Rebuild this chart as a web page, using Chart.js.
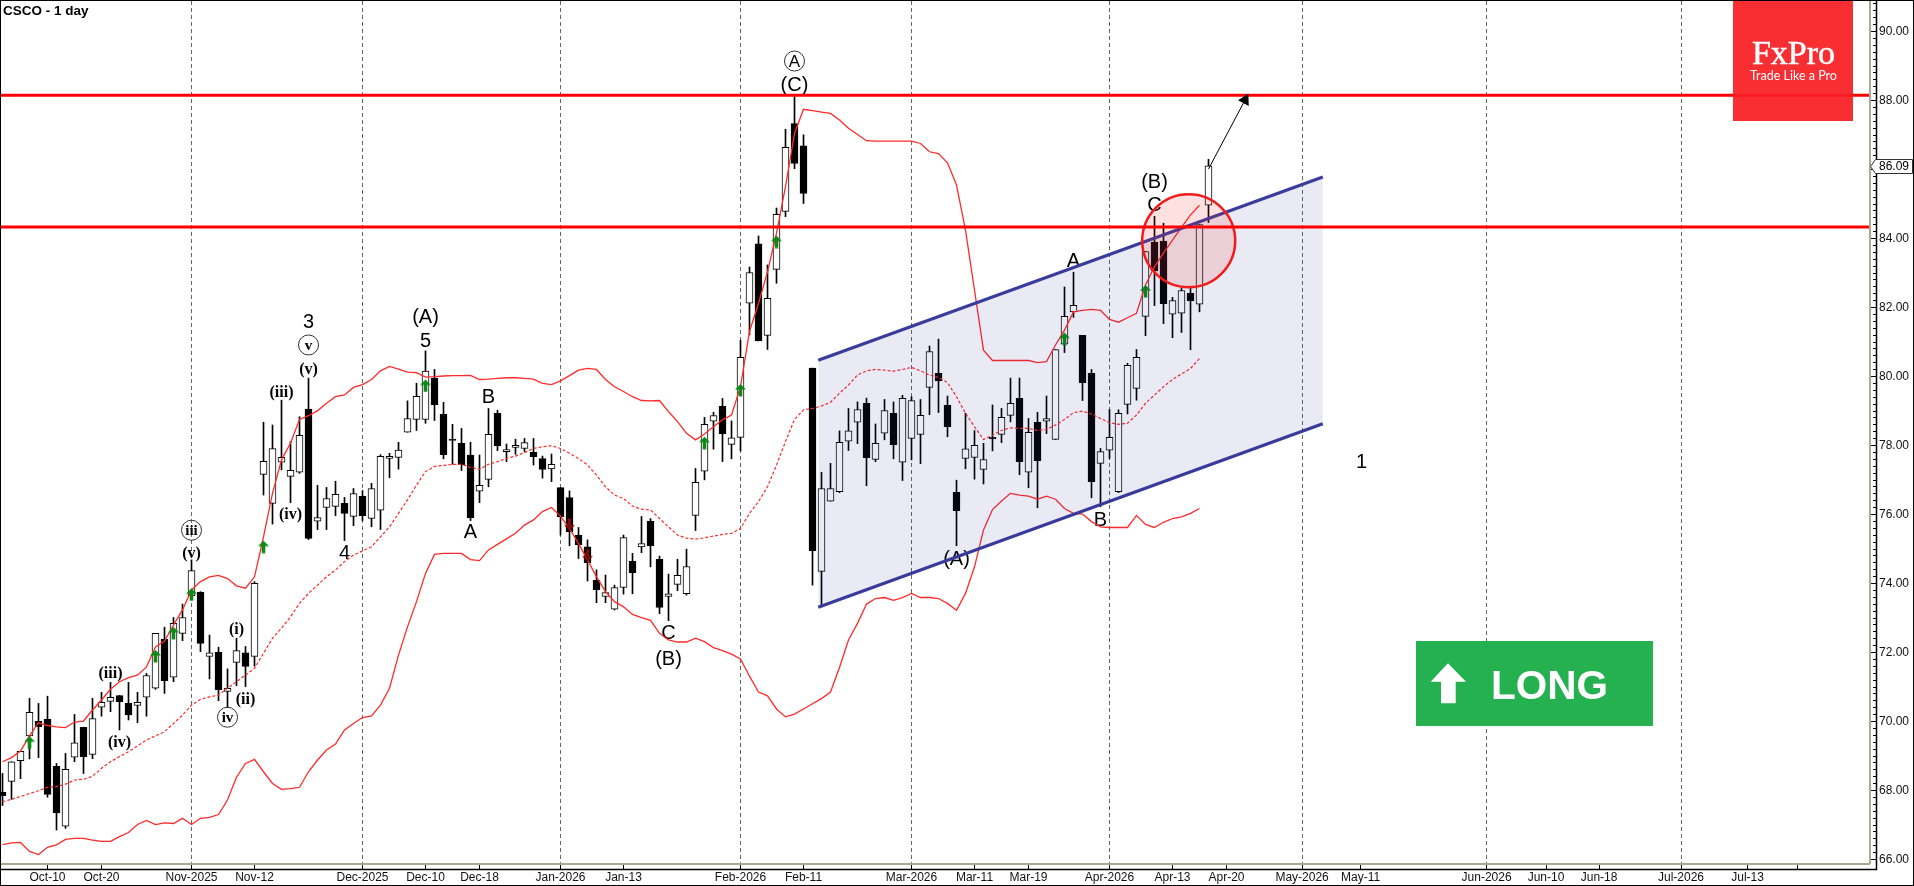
<!DOCTYPE html>
<html>
<head>
<meta charset="utf-8">
<title>CSCO - 1 day</title>
<script src="https://cdn.jsdelivr.net/npm/chart.js@4/dist/chart.umd.js"></script>
<style>
  html, body { margin: 0; padding: 0; background: #fff; }
  canvas { display: block; }
</style>
</head>
<body>
<canvas id="chart" width="1914" height="886"></canvas>
<script>
const opens = [67.93,68.25,68.85,69.57,69.99,70.05,68.69,66.95,68.95,69.82,69.03,70.40,70.57,70.74,70.51,70.45,70.69,70.95,72.37,71.27,72.54,73.63,73.73,71.87,71.99,70.86,71.70,71.98,71.87,77.15,76.31,77.50,77.09,77.21,79.04,75.79,76.19,76.22,76.31,75.93,76.51,75.87,76.11,77.61,77.64,78.37,78.74,78.74,79.94,78.89,78.17,78.05,77.71,76.66,77.00,78.92,77.81,77.93,77.90,77.79,77.61,77.31,76.77,76.48,75.38,75.05,74.08,73.61,73.24,73.87,74.63,75.05,75.79,74.69,73.61,73.96,73.69,75.96,77.24,78.69,79.12,78.02,78.22,82.11,83.83,81.18,83.09,84.77,87.32,86.67,80.23,74.34,76.37,76.65,78.11,78.66,79.21,77.58,78.34,78.92,77.50,78.19,78.31,79.67,80.08,79.15,76.63,77.61,77.64,77.29,78.22,78.31,78.86,79.35,77.21,78.66,78.69,78.16,80.92,81.86,81.18,80.08,77.47,77.85,76.65,79.18,79.64,81.73,83.88,83.91,81.79,81.82,82.40,82.08,84.95];
const closes = [67.84,68.82,69.12,70.25,69.84,67.87,67.34,68.60,69.37,68.97,70.07,70.54,70.69,70.56,70.18,70.54,71.32,72.54,71.17,72.83,73.00,74.36,72.25,71.98,70.91,70.95,72.04,71.58,73.99,77.53,77.90,77.64,77.27,78.28,75.29,75.90,76.45,76.57,76.02,76.59,75.95,76.74,77.67,77.67,77.85,78.77,79.41,80.14,79.17,77.72,78.13,77.43,75.89,76.83,78.31,77.98,77.87,77.99,78.07,77.66,77.29,77.44,75.92,75.49,75.11,74.59,73.81,73.72,73.87,75.32,74.30,75.14,75.08,73.29,73.69,74.22,74.48,76.92,78.60,78.85,78.33,78.21,80.54,83.00,81.02,82.25,84.69,86.63,86.16,85.29,74.94,76.74,76.74,78.08,78.41,79.03,77.63,78.05,79.00,78.01,79.35,79.29,78.86,80.71,79.86,78.53,76.10,77.89,77.99,77.58,78.18,78.80,79.21,77.52,78.37,77.55,78.77,80.77,81.73,82.05,79.81,76.94,77.81,78.22,78.92,80.31,80.54,83.61,83.05,82.10,82.19,82.48,82.18,84.39,86.09];
const highs = [68.48,68.82,69.12,70.66,70.51,70.72,68.77,69.06,70.19,69.82,70.66,70.83,71.12,70.74,71.12,70.83,71.38,72.54,72.72,73.00,73.39,74.67,73.75,72.49,72.14,71.51,72.40,72.16,74.04,78.66,78.58,79.30,78.10,78.82,79.94,76.83,76.77,76.95,76.48,76.74,76.68,76.89,77.72,77.76,78.08,79.28,79.79,80.73,80.19,79.24,78.60,78.48,78.08,77.71,79.06,79.01,78.03,78.17,78.19,78.19,77.68,77.74,76.77,76.67,75.61,75.25,74.38,74.23,73.94,75.39,74.86,75.93,75.87,74.78,74.26,74.69,74.98,77.32,78.80,78.95,79.35,78.70,81.04,83.16,84.06,83.22,84.87,87.15,88.12,86.99,80.23,77.21,77.47,78.41,79.06,79.25,79.36,78.61,79.32,79.25,79.44,79.40,79.32,80.87,81.07,79.42,76.98,78.92,78.42,78.05,79.16,79.06,79.94,79.94,78.77,78.95,79.42,80.77,82.58,83.01,81.18,80.19,77.90,79.03,79.02,80.37,80.77,83.61,84.63,84.43,82.28,82.54,82.54,84.39,86.28];
const lows = [67.55,67.73,68.33,68.90,68.94,67.79,66.84,66.89,68.82,68.48,68.91,70.14,70.27,69.74,70.03,69.95,70.14,70.92,70.80,71.14,72.33,73.51,72.01,71.22,70.59,70.40,71.02,71.00,71.59,76.55,75.71,77.28,76.33,77.18,75.26,75.55,75.55,75.95,75.23,75.66,75.81,75.63,75.55,77.05,77.30,78.37,78.42,78.63,78.71,77.60,77.44,77.26,75.81,76.33,76.79,77.84,77.52,77.73,77.81,77.42,77.04,76.94,75.39,75.08,74.71,74.06,73.43,73.43,73.22,73.68,73.69,74.88,74.47,73.11,72.91,73.78,73.65,75.52,76.99,77.88,77.52,77.60,77.83,81.19,81.02,80.77,82.69,84.62,86.01,85.00,73.94,73.31,76.37,76.62,77.84,78.04,76.82,77.52,78.15,77.60,76.97,77.57,77.46,78.88,78.94,78.24,75.08,77.31,77.01,76.87,77.83,78.07,78.67,77.14,76.76,76.18,78.33,78.16,80.68,81.70,79.29,76.47,76.21,77.61,76.62,78.90,79.30,81.17,82.04,81.52,81.11,81.26,80.76,81.86,84.45];

const upperBand = [68.82,68.94,69.13,69.57,69.95,69.87,69.83,69.81,69.97,70.00,70.32,70.61,70.92,71.14,71.26,71.33,71.57,72.15,72.32,72.78,73.22,73.80,74.04,74.18,74.22,74.13,73.92,73.85,74.18,75.34,76.60,77.57,78.05,78.74,78.85,78.99,79.21,79.40,79.45,79.67,79.75,79.90,80.15,80.28,80.20,80.11,80.10,79.97,79.98,80.00,80.01,80.01,80.02,79.90,79.91,79.93,79.95,79.95,79.93,79.91,79.79,79.75,79.86,80.01,80.17,80.22,80.19,79.90,79.69,79.55,79.40,79.29,79.28,79.29,78.97,78.68,78.34,78.15,78.32,78.53,78.73,78.87,79.69,81.29,82.11,83.02,84.14,85.49,87.03,87.73,87.69,87.65,87.61,87.42,87.18,87.00,86.82,86.81,86.81,86.81,86.81,86.81,86.74,86.50,86.45,86.18,85.54,84.23,82.49,80.75,80.45,80.45,80.45,80.45,80.45,80.39,80.42,80.90,81.33,81.86,81.90,81.93,81.90,81.64,81.56,81.69,81.82,82.64,83.17,83.56,83.94,84.31,84.67,84.95];
const middleBand = [67.66,67.73,67.81,67.90,67.98,68.08,68.10,68.17,68.29,68.31,68.40,68.63,68.82,68.97,69.11,69.28,69.45,69.57,69.69,69.93,70.17,70.46,70.63,70.70,70.75,70.95,71.14,71.33,71.53,71.96,72.40,72.69,73.02,73.41,73.70,73.94,74.18,74.38,74.62,74.81,74.93,75.05,75.34,75.63,76.02,76.41,76.84,77.23,77.38,77.41,77.44,77.44,77.35,77.30,77.44,77.52,77.61,77.68,77.78,77.90,77.95,77.98,77.90,77.76,77.61,77.42,77.13,76.79,76.55,76.45,76.23,76.14,76.12,75.87,75.63,75.39,75.30,75.27,75.31,75.36,75.41,75.44,75.58,76.02,76.36,76.79,77.42,78.10,78.74,79.02,79.06,79.13,79.24,79.50,79.74,80.03,80.15,80.19,80.17,80.14,80.19,80.25,80.15,80.03,79.96,79.81,79.40,78.92,78.53,78.16,78.29,78.42,78.50,78.48,78.48,78.42,78.45,78.58,78.74,78.94,78.98,78.90,78.77,78.65,78.60,78.63,78.87,79.21,79.45,79.69,79.90,80.06,80.22,80.51];
const lowerBand = [66.42,66.47,66.48,66.22,66.13,66.34,66.41,66.57,66.60,66.60,66.55,66.51,66.51,66.65,66.77,67.00,67.12,67.00,67.05,67.03,67.18,67.00,67.18,67.21,67.29,67.71,68.37,68.77,68.89,68.53,68.19,68.02,68.04,68.08,68.53,68.87,69.16,69.33,69.74,69.93,70.10,70.15,70.46,70.95,71.91,72.73,73.46,74.28,74.83,74.86,74.86,74.86,74.68,74.65,74.96,75.12,75.28,75.44,75.68,75.83,76.07,76.19,75.94,75.58,75.15,74.67,74.18,73.75,73.46,73.31,73.09,73.00,72.92,72.54,72.35,72.29,72.29,72.40,72.30,72.13,72.04,71.94,71.80,71.30,70.84,70.73,70.35,70.12,70.20,70.35,70.50,70.65,70.84,71.55,72.35,72.83,73.39,73.55,73.58,73.50,73.58,73.70,73.58,73.58,73.55,73.41,73.21,73.70,74.47,75.54,76.13,76.38,76.60,76.55,76.52,76.43,76.52,76.43,76.16,76.02,76.00,75.78,75.63,75.61,75.61,75.61,75.96,75.70,75.61,75.76,75.87,75.92,76.02,76.16];

// x axis, positions are bar numbers, future dates are spaced a bit unevenly
const tickIdx = [5,11,21,28,40,47,53,62,69,82,89,101,108,114,123,130,136,144.4,150.9,164.9,171.5,177.4,186.5,193.9,199.4];
const tickLabels = ['Oct-10','Oct-20','Nov-2025','Nov-12','Dec-2025','Dec-10','Dec-18','Jan-2026','Jan-13','Feb-2026','Feb-11','Mar-2026','Mar-11','Mar-19','Apr-2026','Apr-13','Apr-20','May-2026','May-11','Jun-2026','Jun-10','Jun-18','Jul-2026','Jul-13',''];

const levels = [88.14, 84.32];
const channelIdx = [90.64, 146.7];
const channelUpper = [80.46, 85.77];
const channelLower = [73.30, 78.62];
const targetIdx = [134, 138.06];
const targetPrice = [86.0, 88.0];
const circleIdx = [131.8];
const circlePrice = [83.92];

const upArrowIdx = [3,17,19,21,29,47,78,82,86,118,127];
const upArrowPrice = [69.56,72.06,72.73,73.85,75.23,79.90,78.24,79.77,84.07,81.26,82.64];
const downArrowIdx = [63,65];
const downArrowPrice = [75.52,74.62];

const waveText = ['(iii)','(iv)','iii','(v)','(i)','(ii)','iv','(iii)','(iv)','4','3','v','(v)','(A)','5','B','A','C','(B)','A','(C)','(A)','B','A','(B)','C','1'];
const waveKind = ['r','r','c','r','r','r','c','r','r','s','s','c','r','s','s','s','s','s','s','a','s','s','s','s','s','s','s'];
const waveIdx = [12,13,21,21,26,27,25,31,32,38,34,34,34,47,47,54,52,74,74,88,88,106,122,119,128,128,151];
const wavePrice = [71.41,69.40,75.53,74.86,72.66,70.63,70.11,79.55,76.00,74.89,81.58,80.90,80.22,81.72,81.04,79.42,75.49,72.56,71.82,89.13,88.46,74.71,75.85,83.34,85.63,84.96,77.52];

const SANS = '"Liberation Sans"';
const SERIF = '"Liberation Serif"';
Chart.defaults.font.family = SANS;

function xy(xs, ys) {
  return xs.map((x, i) => ({ x: x, y: ys[i] }));
}

function makeArrow(color, up) {
  // the tip sits on the middle of the canvas so the point lands on the tip
  let c = document.createElement('canvas');
  c.width = 11; c.height = 26;
  let g = c.getContext('2d');
  if (!up) { g.translate(0, 26); g.scale(1, -1); }
  g.fillStyle = color;
  g.beginPath();
  g.moveTo(5.5, 13); g.lineTo(11, 18.5); g.lineTo(7.3, 18.5); g.lineTo(7.3, 25.5);
  g.lineTo(3.7, 25.5); g.lineTo(3.7, 18.5); g.lineTo(0, 18.5);
  g.closePath();
  g.fill();
  return c;
}

const bodyColors = closes.map((c, i) => c >= opens[i] ? '#ffffff' : '#000000');

const overlay = {
  id: 'overlay',
  beforeDatasetsDraw(chart) {
    const g = chart.ctx, sx = chart.scales.x, sy = chart.scales.y;
    g.save();
    g.textAlign = 'center';
    g.textBaseline = 'middle';
    g.fillStyle = '#000';
    waveText.forEach((t, i) => {
      let px = sx.getPixelForValue(waveIdx[i]), py = sy.getPixelForValue(wavePrice[i]);
      let kind = waveKind[i];
      if (kind == 's') g.font = '20px ' + SANS;
      if (kind == 'r') g.font = 'bold 16px ' + SERIF;
      if (kind == 'c') g.font = 'bold 15px ' + SERIF;
      if (kind == 'a') g.font = '17px ' + SANS;
      if (kind == 'c' || kind == 'a') {
        g.beginPath();
        g.arc(px, py, 10, 0, Math.PI * 2);
        g.strokeStyle = '#333';
        g.lineWidth = 1;
        g.stroke();
      }
      g.fillText(t, px, py + 1);
    });
    g.restore();
  },
  afterDraw(chart) {
    const g = chart.ctx, sy = chart.scales.y, area = chart.chartArea;
    g.save();

    // axis frame
    g.strokeStyle = '#a9a994';
    g.lineWidth = 2;
    g.beginPath();
    g.moveTo(area.right, 0); g.lineTo(area.right, area.bottom);
    g.moveTo(0, area.bottom); g.lineTo(area.right, area.bottom);
    g.stroke();
    g.strokeStyle = '#000';
    g.lineWidth = 1.5;
    g.beginPath();
    g.moveTo(1876.5, 0); g.lineTo(1876.5, 869.5); g.lineTo(0, 869.5);
    g.stroke();
    g.lineWidth = 1;
    g.strokeRect(0.5, 0.5, 1913, 885);

    // minor price ticks
    g.beginPath();
    sy.ticks.forEach(t => {
      if (t.label !== '') return;
      let py = Math.round(sy.getPixelForValue(t.value)) + 0.5;
      g.moveTo(1873, py); g.lineTo(1877, py);
    });
    g.stroke();

    // last price flag
    let last = closes[closes.length - 1];
    let fy = Math.round(sy.getPixelForValue(last));
    g.fillStyle = '#fff';
    g.strokeStyle = '#333';
    g.beginPath();
    g.moveTo(1870.5, fy + 0.5); g.lineTo(1875.5, fy - 6.5); g.lineTo(1912.5, fy - 6.5);
    g.lineTo(1912.5, fy + 7.5); g.lineTo(1875.5, fy + 7.5);
    g.closePath();
    g.fill();
    g.stroke();
    g.fillStyle = '#000';
    g.font = '12px ' + SANS;
    g.textAlign = 'left';
    g.textBaseline = 'middle';
    g.fillText(last.toFixed(2), 1879, fy + 1);

    // title
    g.font = 'bold 13.5px ' + SANS;
    g.fillText('CSCO - 1 day', 3, 11);

    // logo
    g.fillStyle = 'rgba(247,30,35,0.93)';
    g.fillRect(1733, 1, 120, 120);
    g.fillStyle = '#fff';
    g.strokeStyle = '#fff';
    g.lineWidth = 0.5;
    g.textAlign = 'center';
    g.textBaseline = 'alphabetic';
    g.font = '34px ' + SERIF;
    g.fillText('FxPro', 1793.5, 64);
    g.strokeText('FxPro', 1793.5, 64);
    g.font = '12.5px Lato';
    g.fillText('Trade Like a Pro', 1793.5, 80);

    // long badge
    g.fillStyle = '#25b14f';
    g.fillRect(1416, 641, 237, 85);
    g.fillStyle = '#fff';
    g.beginPath();
    g.moveTo(1448, 663.3); g.lineTo(1466, 681.7); g.lineTo(1455.7, 681.7); g.lineTo(1455.7, 703.3);
    g.lineTo(1441, 703.3); g.lineTo(1441, 681.7); g.lineTo(1430.7, 681.7);
    g.closePath();
    g.fill();
    g.textAlign = 'left';
    g.font = 'bold 40.5px ' + SANS;
    g.fillText('LONG', 1491, 698.5);
    g.restore();
  }
};

// one bar number is 9 pixels, this puts the bars on whole pixels
const xMin = -1 / 6, xMax = 207.5;
const lineBase = { type: 'line', pointRadius: 0, tension: 0, fill: false };

const datasets = [
  { type: 'bar', order: 10, label: 'wick', data: highs.map((h, i) => ({ x: i, y: [lows[i], h] })),
    barThickness: 1, grouped: false, backgroundColor: '#000', borderWidth: 0 },
  { type: 'bar', order: 9, label: 'body', data: closes.map((c, i) => ({ x: i, y: [opens[i], c] })),
    barThickness: 7, grouped: false, backgroundColor: bodyColors, borderColor: '#000', borderWidth: 1, borderSkipped: false },
  { ...lineBase, order: 8, label: 'upper', data: upperBand.map((v, i) => ({ x: i, y: v })), borderColor: '#ff2a2a', borderWidth: 1.3 },
  { ...lineBase, order: 8, label: 'middle', data: middleBand.map((v, i) => ({ x: i, y: v })), borderColor: '#ff2a2a', borderWidth: 1.2, borderDash: [3, 2] },
  { ...lineBase, order: 8, label: 'lower', data: lowerBand.map((v, i) => ({ x: i, y: v })), borderColor: '#ff2a2a', borderWidth: 1.3 },
  { type: 'scatter', order: 7, label: 'up', data: xy(upArrowIdx, upArrowPrice), pointStyle: makeArrow('#0c8a14', true), pointRadius: 5 },
  { type: 'scatter', order: 7, label: 'down', data: xy(downArrowIdx, downArrowPrice), pointStyle: makeArrow('#7a0c0c', false), pointRadius: 5 },
  { ...lineBase, order: 6, label: 'channel top', data: xy(channelIdx, channelUpper), borderColor: '#3a3c9c', borderWidth: 3.2, fill: '+1', backgroundColor: 'rgba(40,50,150,0.10)' },
  { ...lineBase, order: 6, label: 'channel bottom', data: xy(channelIdx, channelLower), borderColor: '#3a3c9c', borderWidth: 3.2 },
  { type: 'scatter', order: 5, label: 'circle', data: xy(circleIdx, circlePrice), pointRadius: 46.5, pointBackgroundColor: 'rgba(240,40,40,0.14)', pointBorderColor: '#f01c1c', pointBorderWidth: 2.5 },
  { ...lineBase, order: 4, label: 'level 1', data: xy([xMin, xMax], [levels[0], levels[0]]), borderColor: '#ff0000', borderWidth: 3 },
  { ...lineBase, order: 4, label: 'level 2', data: xy([xMin, xMax], [levels[1], levels[1]]), borderColor: '#ff0000', borderWidth: 3 },
  { ...lineBase, order: 3, label: 'target', data: xy(targetIdx, targetPrice), borderColor: '#000', borderWidth: 1,
    pointRadius: [0, 7], pointStyle: 'triangle', pointRotation: 28, pointBackgroundColor: '#000', pointBorderWidth: 0 }
];

function noPadding(s) {
  s.paddingLeft = 0; s.paddingRight = 0; s.paddingTop = 0; s.paddingBottom = 0;
}

new Chart(document.getElementById('chart'), {
  type: 'bar',
  data: { datasets: datasets },
  plugins: [overlay],
  options: {
    responsive: false,
    animation: false,
    layout: { autoPadding: false, padding: { left: 1, top: 1, right: 0, bottom: 0 } },
    plugins: { legend: { display: false }, tooltip: { enabled: false } },
    scales: {
      x: {
        type: 'linear',
        min: xMin,
        max: xMax,
        offset: false,
        afterBuildTicks: s => { s.ticks = tickIdx.map(v => ({ value: v })); },
        afterFit: s => { s.height = 22; noPadding(s); },
        ticks: {
          autoSkip: false,
          maxRotation: 0,
          padding: 1,
          color: '#111',
          font: { size: 12 },
          callback: (v, i) => tickLabels[i]
        },
        grid: {
          offset: false,
          tickLength: 5,
          tickColor: '#000',
          color: c => c.index !== undefined && /-20\d\d/.test(tickLabels[c.index] || '') ? '#666' : 'rgba(0,0,0,0)'
        },
        border: { display: false, dash: [4, 3] }
      },
      y: {
        type: 'linear',
        position: 'right',
        min: 65.856,
        max: 90.87,
        afterBuildTicks: s => {
          let list = [];
          for (let k = 330; k <= 454; ++k) list.push({ value: k / 5 });
          s.ticks = list;
        },
        afterFit: s => { s.width = 44; noPadding(s); },
        ticks: {
          autoSkip: false,
          padding: 2,
          labelOffset: 1,
          color: '#111',
          font: { size: 12 },
          callback: v => Math.round(v * 5) % 10 == 0 ? v.toFixed(2) : ''
        },
        grid: {
          drawOnChartArea: false,
          tickLength: 7,
          tickColor: c => c.tick && Math.round(c.tick.value * 5) % 10 == 0 ? '#000' : 'rgba(0,0,0,0)'
        },
        border: { display: false }
      }
    }
  }
});
</script>
</body>
</html>
